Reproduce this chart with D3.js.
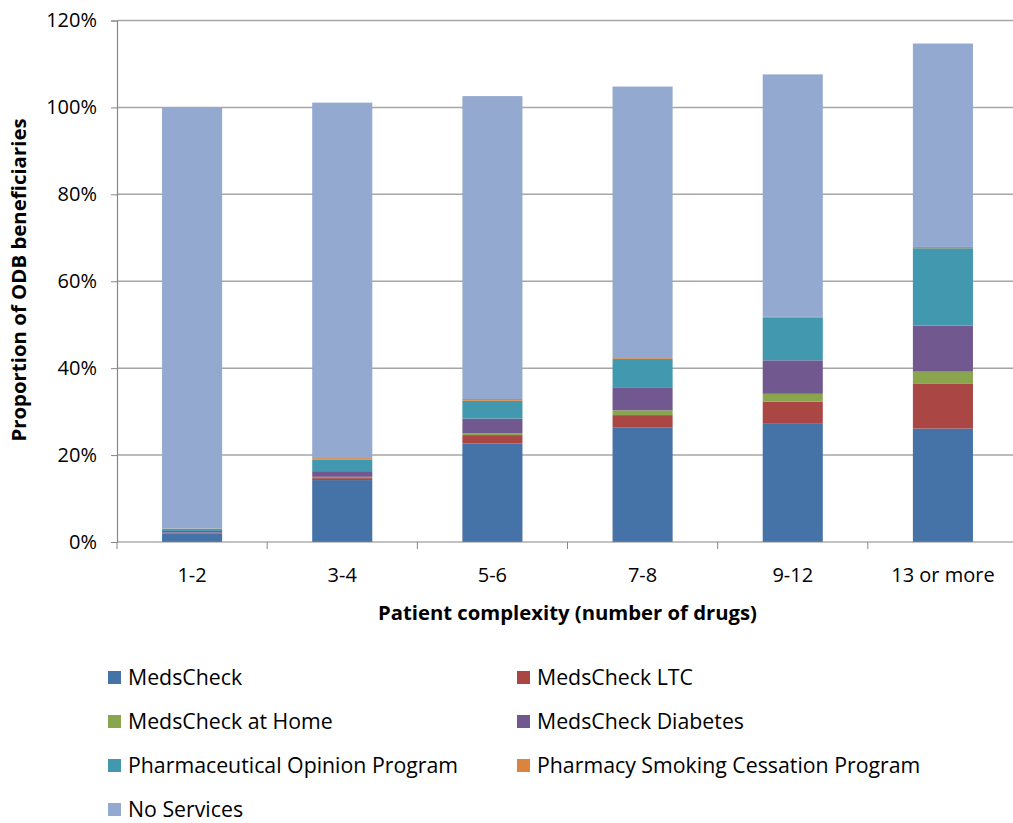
<!DOCTYPE html>
<html>
<head>
<meta charset="utf-8">
<script src="https://cdn.jsdelivr.net/npm/d3@7"></script>
<style>
  body { margin: 0; background: #fff; }
  svg text { font-family: "Open Sans", "DejaVu Sans", sans-serif; fill: #000; }
</style>
</head>
<body>
<svg id="chart"></svg>
<script>
// categories on the x axis
const groups = ["1-2", "3-4", "5-6", "7-8", "9-12", "13 or more"];

// series, % of ODB beneficiaries
const seriesNames = ["MedsCheck", "MedsCheck LTC", "MedsCheck at Home", "MedsCheck Diabetes",
    "Pharmaceutical Opinion Program", "Pharmacy Smoking Cessation Program", "No Services"];
const medsCheck    = [2.0, 14.25, 22.7, 26.4, 27.2, 26.1];
const medsCheckLtc = [0.1, 0.45, 1.9, 2.8, 5.1, 10.4];
const medsAtHome   = [0.05, 0.3, 0.4, 1.1, 1.8, 2.7];
const medsDiabetes = [0.4, 1.3, 3.4, 5.3, 7.7, 10.6];
const opinionProg  = [0.5, 2.7, 4.1, 6.5, 9.9, 17.8];
const smokingProg  = [0.05, 0.3, 0.4, 0.2, 0.1, 0.3];
const noServices   = [96.9, 81.8, 69.7, 62.5, 55.8, 46.8];

const yTicks = [0, 20, 40, 60, 80, 100, 120];

const colors = ["#4572A7", "#AA4643", "#89A54E", "#71588F", "#4198AF", "#DB843D", "#93A9CF"];

const allSeries = [medsCheck, medsCheckLtc, medsAtHome, medsDiabetes, opinionProg, smokingProg, noServices];
const table = groups.map((g, i) => {
    const row = { group: g };
    seriesNames.forEach((s, j) => row[s] = allSeries[j][i]);
    return row;
});

const W = 1013, H = 823;
const margin = { top: 20.5, right: -5, bottom: 281, left: 117 };
const width = W - margin.left - margin.right;
const height = H - margin.top - margin.bottom;

const svg = d3.select("#chart").attr("width", W).attr("height", H);
const g = svg.append("g").attr("transform", "translate(" + margin.left + "," + margin.top + ")");

const x = d3.scaleBand().domain(groups).range([0, width]).paddingInner(0.6).paddingOuter(0.3);
const xBand = d3.scaleBand().domain(groups).range([0, width]);
const y = d3.scaleLinear().domain([0, 120]).range([height, 0]);

// gridlines
g.append("g").selectAll("line")
    .data(yTicks.filter(t => t > 0))
    .enter().append("line")
    .attr("x1", 0).attr("x2", width)
    .attr("y1", d => y(d)).attr("y2", d => y(d))
    .attr("stroke", "#a6a6a6").attr("stroke-width", 1.5);

// stacked bars
const stacked = d3.stack().keys(seriesNames)(table);
g.append("g").selectAll("g")
    .data(stacked)
    .enter().append("g")
    .attr("fill", (d, i) => colors[i])
    .selectAll("rect")
    .data(d => d)
    .enter().append("rect")
    .attr("x", d => x(d.data.group))
    .attr("width", x.bandwidth())
    .attr("y", d => y(d[1]))
    .attr("height", d => y(d[0]) - y(d[1]));

// y axis
const yAxis = g.append("g")
    .call(d3.axisLeft(y).tickValues(yTicks).tickFormat(d => d + "%").tickSize(6).tickPadding(14));
yAxis.select(".domain").attr("stroke", "#868686").attr("stroke-width", 1.2);
yAxis.selectAll(".tick line").attr("stroke", "#868686");
yAxis.selectAll(".tick text")
    .style("font-size", "20px").attr("fill", "#000");

// x axis, ticks sit on the category boundaries
const xAxis = g.append("g").attr("transform", "translate(0," + height + ")");
xAxis.append("line").attr("x1", 0).attr("x2", width).attr("stroke", "#868686").attr("stroke-width", 1.2);
xAxis.selectAll(".bound")
    .data(groups)
    .enter().append("line")
    .attr("x1", d => xBand(d)).attr("x2", d => xBand(d))
    .attr("y1", 0).attr("y2", 7)
    .attr("stroke", "#868686");
xAxis.selectAll(".lab")
    .data(groups)
    .enter().append("text")
    .attr("x", d => x(d) + x.bandwidth() / 2)
    .attr("y", 40)
    .attr("text-anchor", "middle")
    .style("font-size", "20px")
    .text(d => d);

// axis titles
svg.append("text")
    .attr("x", margin.left + width / 2)
    .attr("y", 620)
    .attr("text-anchor", "middle")
    .style("font-weight", "bold")
    .style("font-size", "20.3px")
    .text("Patient complexity (number of drugs)");

svg.append("text")
    .attr("transform", "translate(26,280) rotate(-90)")
    .attr("text-anchor", "middle")
    .style("font-weight", "bold")
    .style("font-size", "20.4px")
    .text("Proportion  of ODB beneficiaries");

// legend, two columns
const legend = svg.append("g").attr("transform", "translate(108,671)");
const items = legend.selectAll(".legend-item")
    .data(seriesNames)
    .enter().append("g")
    .attr("class", "legend-item")
    .attr("transform", (d, i) => "translate(" + (i % 2) * 409 + "," + Math.floor(i / 2) * 44 + ")");
items.append("rect")
    .attr("width", 13).attr("height", 13)
    .attr("fill", (d, i) => colors[i]);
items.append("text")
    .attr("x", 20).attr("y", 14)
    .style("font-size", "21.3px")
    .text(d => d);
</script>
</body>
</html>
